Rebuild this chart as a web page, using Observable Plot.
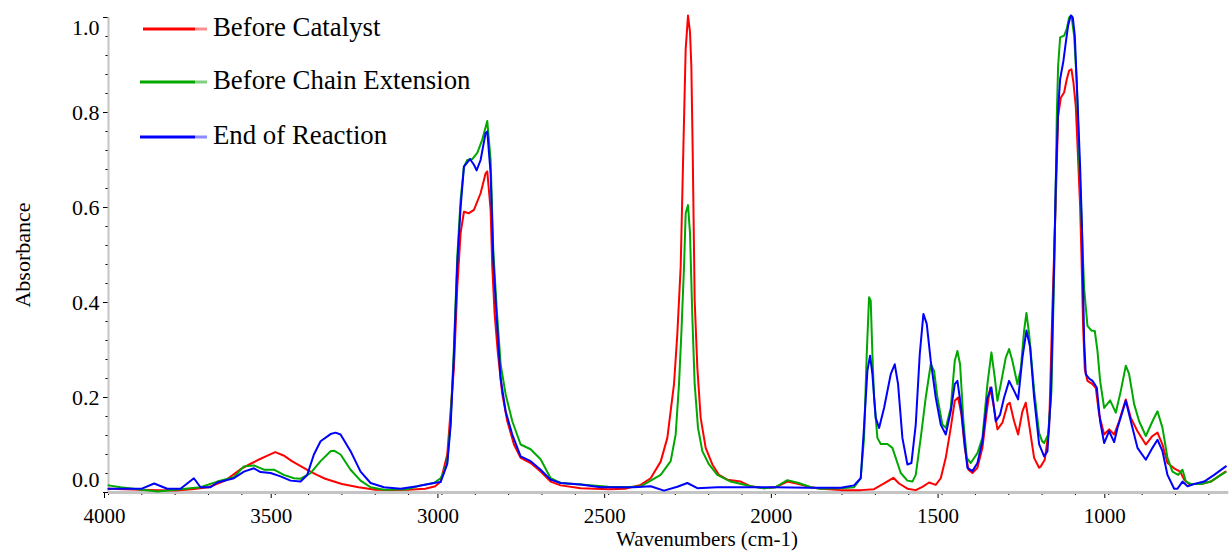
<!DOCTYPE html>
<html><head><meta charset="utf-8">
<script src="https://cdn.jsdelivr.net/npm/d3@7"></script>
<script src="https://cdn.jsdelivr.net/npm/@observablehq/plot@0.6"></script>
<style>
html,body{margin:0;padding:0;background:#fff;}
#chart{position:relative;width:1230px;height:555px;}
</style></head><body><div id="chart"></div>
<script>
const seriesNames = ["Before Catalyst", "Before Chain Extension", "End of Reaction"];
const seriesColors = ["#ff0000", "#00a800", "#0000ff"];
const legendTail = ["#ff8c8c", "#80d080", "#8c8cff"];

// [wavenumber, absorbance]
const beforeCatalyst = [[4000,0.008],[3950,0.007],[3900,0.006],[3850,0.005],[3800,0.004],[3750,0.007],[3700,0.011],[3650,0.025],[3600,0.051],[3575,0.060],[3550,0.069],[3525,0.077],[3500,0.085],[3475,0.078],[3450,0.066],[3425,0.056],[3400,0.046],[3375,0.037],[3350,0.029],[3300,0.018],[3250,0.011],[3200,0.006],[3150,0.005],[3100,0.006],[3050,0.008],[3020,0.013],[3004,0.023],[2984,0.080],[2964,0.263],[2954,0.432],[2944,0.546],[2934,0.591],[2919,0.588],[2904,0.595],[2884,0.630],[2869,0.672],[2864,0.676],[2854,0.595],[2849,0.475],[2842,0.376],[2832,0.292],[2819,0.207],[2804,0.150],[2784,0.101],[2764,0.073],[2734,0.062],[2704,0.044],[2674,0.023],[2644,0.015],[2584,0.009],[2500,0.007],[2450,0.008],[2404,0.016],[2374,0.030],[2344,0.065],[2324,0.115],[2304,0.228],[2294,0.334],[2284,0.475],[2276,0.722],[2269,0.933],[2262,1.004],[2256,0.969],[2252,0.898],[2248,0.722],[2242,0.404],[2234,0.263],[2224,0.157],[2209,0.094],[2189,0.059],[2169,0.037],[2144,0.027],[2104,0.023],[2074,0.013],[2034,0.009],[2000,0.011],[1964,0.023],[1930,0.018],[1894,0.011],[1864,0.008],[1804,0.005],[1744,0.005],[1704,0.007],[1674,0.019],[1646,0.031],[1629,0.019],[1604,0.008],[1579,0.005],[1559,0.012],[1539,0.021],[1519,0.016],[1504,0.030],[1489,0.073],[1474,0.136],[1462,0.193],[1452,0.200],[1442,0.164],[1432,0.094],[1421,0.048],[1409,0.041],[1394,0.052],[1379,0.094],[1366,0.171],[1356,0.221],[1346,0.185],[1334,0.133],[1319,0.147],[1304,0.185],[1297,0.189],[1284,0.150],[1272,0.122],[1259,0.171],[1249,0.189],[1239,0.143],[1224,0.073],[1209,0.052],[1204,0.055],[1192,0.069],[1179,0.136],[1169,0.390],[1159,0.616],[1152,0.792],[1144,0.831],[1134,0.842],[1126,0.870],[1119,0.888],[1112,0.891],[1106,0.863],[1099,0.813],[1092,0.701],[1086,0.602],[1082,0.500],[1077,0.350],[1072,0.260],[1064,0.235],[1049,0.228],[1039,0.220],[1029,0.164],[1014,0.122],[999,0.133],[984,0.122],[969,0.150],[949,0.196],[934,0.157],[914,0.129],[889,0.101],[869,0.119],[854,0.126],[839,0.101],[824,0.062],[804,0.051],[786,0.044],[774,0.027],[759,0.018],[724,0.018],[694,0.023],[650,0.044]];

const beforeChainExtension = [[4000,0.015],[3964,0.011],[3900,0.006],[3853,0.002],[3800,0.006],[3724,0.011],[3674,0.023],[3624,0.032],[3594,0.055],[3564,0.057],[3534,0.048],[3504,0.048],[3474,0.037],[3444,0.030],[3424,0.029],[3394,0.041],[3364,0.066],[3334,0.087],[3324,0.088],[3304,0.080],[3274,0.048],[3244,0.025],[3214,0.011],[3174,0.006],[3104,0.007],[3064,0.015],[3024,0.020],[3004,0.030],[2994,0.044],[2984,0.065],[2974,0.150],[2964,0.305],[2954,0.496],[2944,0.616],[2934,0.686],[2924,0.700],[2909,0.702],[2894,0.715],[2879,0.743],[2864,0.782],[2854,0.700],[2846,0.510],[2836,0.390],[2824,0.270],[2809,0.207],[2789,0.150],[2764,0.101],[2734,0.091],[2704,0.070],[2674,0.030],[2644,0.020],[2584,0.017],[2500,0.012],[2450,0.011],[2404,0.013],[2344,0.037],[2314,0.066],[2299,0.122],[2289,0.228],[2282,0.334],[2274,0.475],[2269,0.588],[2262,0.605],[2256,0.546],[2249,0.369],[2242,0.228],[2232,0.136],[2219,0.087],[2199,0.059],[2174,0.037],[2134,0.023],[2074,0.013],[2034,0.009],[2000,0.011],[1964,0.026],[1930,0.020],[1894,0.011],[1864,0.008],[1804,0.009],[1764,0.011],[1744,0.030],[1734,0.115],[1726,0.291],[1719,0.411],[1714,0.404],[1709,0.291],[1704,0.200],[1694,0.115],[1684,0.102],[1664,0.102],[1649,0.094],[1639,0.073],[1624,0.041],[1604,0.025],[1589,0.023],[1579,0.037],[1564,0.115],[1549,0.200],[1534,0.270],[1524,0.256],[1514,0.200],[1499,0.143],[1489,0.136],[1474,0.178],[1462,0.277],[1454,0.298],[1446,0.270],[1436,0.150],[1426,0.073],[1414,0.062],[1394,0.083],[1379,0.115],[1364,0.228],[1352,0.295],[1342,0.242],[1334,0.193],[1324,0.228],[1309,0.284],[1299,0.302],[1289,0.277],[1274,0.228],[1264,0.260],[1254,0.341],[1247,0.378],[1239,0.334],[1224,0.215],[1209,0.125],[1200,0.108],[1194,0.104],[1182,0.122],[1172,0.214],[1164,0.460],[1159,0.651],[1156,0.792],[1152,0.898],[1146,0.958],[1134,0.962],[1126,0.976],[1119,1.000],[1112,1.004],[1104,0.962],[1096,0.863],[1089,0.707],[1082,0.581],[1079,0.520],[1074,0.430],[1064,0.351],[1052,0.341],[1042,0.340],[1034,0.298],[1026,0.235],[1014,0.178],[996,0.194],[979,0.168],[964,0.214],[949,0.267],[939,0.249],[924,0.186],[909,0.150],[889,0.119],[869,0.150],[854,0.171],[839,0.136],[824,0.073],[809,0.044],[792,0.037],[779,0.048],[769,0.023],[754,0.018],[724,0.018],[694,0.023],[664,0.037],[650,0.043]];

const endOfReaction = [[4000,0.008],[3900,0.008],[3863,0.019],[3824,0.008],[3784,0.008],[3744,0.030],[3724,0.011],[3694,0.011],[3674,0.021],[3624,0.030],[3594,0.044],[3564,0.051],[3544,0.043],[3514,0.041],[3484,0.034],[3454,0.025],[3424,0.023],[3404,0.037],[3384,0.080],[3364,0.108],[3334,0.123],[3319,0.126],[3304,0.122],[3274,0.087],[3244,0.044],[3214,0.020],[3174,0.011],[3124,0.008],[3074,0.013],[3024,0.020],[3004,0.022],[2984,0.060],[2974,0.140],[2964,0.290],[2954,0.480],[2944,0.600],[2934,0.686],[2916,0.702],[2904,0.690],[2896,0.678],[2884,0.700],[2869,0.757],[2864,0.760],[2854,0.672],[2846,0.490],[2836,0.370],[2824,0.240],[2809,0.171],[2789,0.122],[2764,0.076],[2734,0.066],[2704,0.048],[2674,0.027],[2644,0.020],[2584,0.017],[2524,0.011],[2424,0.011],[2374,0.013],[2334,0.004],[2294,0.012],[2264,0.020],[2234,0.009],[2174,0.011],[2000,0.011],[1900,0.010],[1804,0.010],[1764,0.015],[1744,0.030],[1734,0.139],[1724,0.256],[1716,0.288],[1709,0.249],[1699,0.157],[1689,0.136],[1674,0.178],[1654,0.249],[1642,0.270],[1632,0.228],[1619,0.115],[1604,0.059],[1592,0.062],[1579,0.143],[1567,0.291],[1556,0.376],[1546,0.355],[1534,0.277],[1519,0.200],[1504,0.143],[1489,0.122],[1474,0.171],[1462,0.228],[1454,0.235],[1444,0.185],[1434,0.115],[1424,0.052],[1409,0.045],[1394,0.062],[1379,0.108],[1364,0.200],[1352,0.221],[1339,0.150],[1326,0.164],[1314,0.200],[1299,0.235],[1284,0.214],[1272,0.196],[1259,0.284],[1247,0.341],[1236,0.306],[1224,0.200],[1209,0.102],[1194,0.076],[1184,0.087],[1174,0.200],[1164,0.480],[1159,0.651],[1152,0.806],[1146,0.870],[1136,0.909],[1129,0.947],[1122,0.983],[1114,1.004],[1108,1.000],[1102,0.962],[1094,0.828],[1086,0.686],[1080,0.545],[1074,0.320],[1069,0.249],[1059,0.240],[1049,0.235],[1036,0.221],[1026,0.150],[1014,0.104],[999,0.129],[984,0.106],[974,0.136],[949,0.193],[934,0.150],[914,0.094],[889,0.069],[869,0.094],[854,0.111],[839,0.087],[824,0.037],[804,0.008],[794,0.008],[779,0.023],[764,0.013],[744,0.018],[714,0.023],[684,0.037],[649,0.055]];

const xTicks = [4000, 3500, 3000, 2500, 2000, 1500, 1000];
const xMinorTicks = d3.range(700, 4001, 100);
const yTicks = [0, 0.2, 0.4, 0.6, 0.8, 1.0];
const yMinorTicks = d3.range(0, 26).map(i => i * 0.04);

const seriesData = [beforeCatalyst, beforeChainExtension, endOfReaction];
const rows = seriesData.flatMap((s, i) => s.map(([wn, a]) => ({series: seriesNames[i], wn, a})));
const fmt = d3.format(".1f");
const font = "Liberation Serif, Times New Roman, serif";

const plot = Plot.plot({
  width: 1230,
  height: 555,
  marginLeft: 108,
  marginRight: 5,
  marginTop: 17,
  marginBottom: 63,
  x: {domain: [4000, 650], label: null},
  y: {domain: [0, 1], label: null},
  color: {domain: seriesNames, range: seriesColors},
  style: {fontFamily: font, background: "#fff", color: "#000"},
  marks: [
    Plot.axisX(xMinorTicks, {tickSize: 3, tickFormat: () => "", label: null}),
    Plot.axisX(xTicks, {tickSize: 6, tickPadding: 10, fontSize: 21, dx: -4, tickFormat: d => String(d), label: null}),
    Plot.axisY(yMinorTicks, {tickSize: 2.5, tickFormat: () => "", label: null}),
    Plot.axisY(yTicks, {tickSize: 5, tickFormat: () => "", label: null}),
    Plot.text(yTicks.filter(d => d > 0 && d < 1), {y: d => d, frameAnchor: "left", dx: -9, textAnchor: "end", text: d => fmt(d), fontSize: 22}),
    Plot.text([1.0], {y: d => d, frameAnchor: "left", dx: -9, dy: 10, textAnchor: "end", text: d => fmt(d), fontSize: 22}),
    Plot.text([0.0], {y: d => d, frameAnchor: "left", dx: -9, dy: -13, textAnchor: "end", text: d => fmt(d), fontSize: 22}),
    Plot.text(["Absorbance"], {frameAnchor: "left", dx: -86, rotate: -90, textAnchor: "middle", fontSize: 22, text: d => d}),
    Plot.text(["Wavenumbers (cm-1)"], {frameAnchor: "bottom", dx: 40, dy: 53, textAnchor: "middle", fontSize: 21, text: d => d}),
    Plot.ruleX([4000], {stroke: "#c4c4c4", strokeWidth: 2}),
    Plot.ruleY([0], {stroke: "#c4c4c4", strokeWidth: 3, x1: 4000, x2: 640}),
    Plot.line(rows, {x: "wn", y: "a", z: "series", stroke: "series", strokeWidth: 2})
  ]
});

document.getElementById("chart").appendChild(plot);

// legend
const svg = d3.select(plot);
const lg = svg.append("g").attr("font-family", font).attr("font-size", 26.8).attr("text-anchor", "start");
const legendY = [29, 82, 137];
seriesNames.forEach((name, i) => {
  const y = legendY[i];
  lg.append("line").attr("x1", i === 0 ? 143 : 140).attr("x2", 195).attr("y1", y).attr("y2", y)
    .attr("stroke", seriesColors[i]).attr("stroke-width", 3);
  lg.append("line").attr("x1", 195).attr("x2", 207).attr("y1", y).attr("y2", y)
    .attr("stroke", legendTail[i]).attr("stroke-width", 3);
  lg.append("text").attr("x", 213).attr("y", y + 7).attr("fill", "#000").attr("text-anchor", "start").text(name);
});
</script>
</body></html>
